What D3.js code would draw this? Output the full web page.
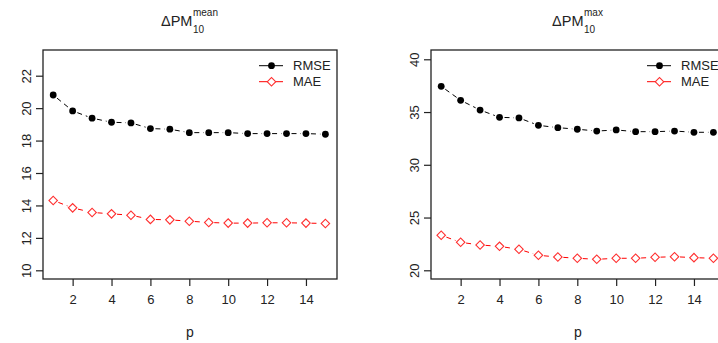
<!DOCTYPE html>
<html><head><meta charset="utf-8">
<script src="https://cdn.jsdelivr.net/npm/d3@7"></script>
<style>body{margin:0;background:#fff}svg{display:block;font-family:"Liberation Sans",Arial,sans-serif}</style>
</head><body><svg id="c" width="718" height="343"></svg>
<script>
const p = [1,2,3,4,5,6,7,8,9,10,11,12,13,14,15];
const rmseMean = [20.81,19.83,19.38,19.13,19.09,18.74,18.70,18.49,18.49,18.49,18.43,18.43,18.43,18.43,18.39];
const maeMean  = [14.31,13.85,13.57,13.48,13.40,13.14,13.11,13.03,12.95,12.91,12.91,12.93,12.93,12.91,12.89];
const rmseMax  = [37.44,36.11,35.19,34.50,34.44,33.74,33.52,33.37,33.20,33.30,33.14,33.14,33.20,33.08,33.08];
const maeMax   = [23.32,22.65,22.40,22.27,21.99,21.42,21.26,21.14,21.04,21.14,21.14,21.23,21.29,21.20,21.14];
const xTicks = [2,4,6,8,10,12,14];
const yTicksMean = [10,12,14,16,18,20,22];
const yTicksMax = [20,25,30,35,40];
const seriesNames = ["RMSE","MAE"];

const svg = d3.select("#c");
const ink = "#222";

function panel(ox, sup, rmse, mae, yDomain, yTicks) {
  const g = svg.append("g").attr("transform", `translate(${ox},0)`);
  const left = 43, right = 337, top = 50, bottom = 279;
  const x = d3.scaleLinear().domain([1,15]).range([53.2,325.4]);
  const y = d3.scaleLinear().domain(yDomain).range([bottom, top]);

  g.append("rect").attr("x",left).attr("y",top).attr("width",right-left).attr("height",bottom-top)
    .attr("fill","none").attr("stroke",ink).attr("stroke-width",1.3);

  const xa = d3.axisBottom(x).tickValues(xTicks).tickSize(7).tickPadding(9).tickSizeOuter(0);
  const gx = g.append("g").attr("transform",`translate(0,${bottom})`).call(xa);
  gx.select(".domain").remove();
  gx.selectAll("line").attr("stroke",ink).attr("stroke-width",1.2);
  gx.selectAll("text").attr("font-size",13).attr("fill",ink).attr("font-family","Liberation Sans, Arial, sans-serif");

  const ya = d3.axisLeft(y).tickValues(yTicks).tickSize(7).tickPadding(0).tickSizeOuter(0);
  const gy = g.append("g").attr("transform",`translate(${left},0)`).call(ya);
  gy.select(".domain").remove();
  gy.selectAll("line").attr("stroke",ink).attr("stroke-width",1.2);
  gy.selectAll("text").attr("font-size",13).attr("fill",ink).attr("font-family","Liberation Sans, Arial, sans-serif")
    .attr("text-anchor","middle").attr("x",0).attr("dy",0)
    .attr("transform","translate(-17,0) rotate(-90)").attr("dominant-baseline","central");

  g.append("text").attr("x",190).attr("y",337).attr("text-anchor","middle")
    .attr("font-size",14).attr("fill",ink).text("p");

  // title: ΔPM with superscript / subscript, centred over the panel
  const t = g.append("text").attr("y",26).attr("fill",ink).attr("font-size",14.5).text("ΔPM");
  const tw = t.node().getComputedTextLength();
  const s1 = g.append("text").attr("y",16).attr("font-size",10).attr("fill",ink).text(sup);
  const s2 = g.append("text").attr("y",33).attr("font-size",10).attr("fill",ink).text("10");
  const sw = Math.max(s1.node().getComputedTextLength(), s2.node().getComputedTextLength());
  const tx = 189.5 - (tw + 0.5 + sw) / 2;
  t.attr("x", tx);
  s1.attr("x", tx + tw + 0.5);
  s2.attr("x", tx + tw + 0.5);

  function drawSeries(vals, color, gap) {
    const pts = p.map((d,i)=>[x(d), y(vals[i])]);
    for (let i=0;i<pts.length-1;i++){
      const [x0,y0]=pts[i],[x1,y1]=pts[i+1];
      const dx=x1-x0, dy=y1-y0, L=Math.hypot(dx,dy);
      if (L<=2*gap) continue;
      const ux=dx/L, uy=dy/L;
      g.append("line").attr("x1",x0+ux*gap).attr("y1",y0+uy*gap)
        .attr("x2",x1-ux*gap).attr("y2",y1-uy*gap)
        .attr("stroke",color).attr("stroke-width",1).attr("stroke-dasharray","5,4");
    }
    return pts;
  }
  const pr = drawSeries(rmse, "#000", 5);
  g.selectAll(".rp").data(pr).enter().append("circle")
    .attr("cx",d=>d[0]).attr("cy",d=>d[1]).attr("r",3.4).attr("fill","#000");
  const pm = drawSeries(mae, "#ff0000", 5.5);
  const dia = d3.symbol().type(d3.symbolSquare).size(36);
  g.selectAll(".mp").data(pm).enter().append("path")
    .attr("d",dia).attr("transform",d=>`translate(${d[0]},${d[1]}) rotate(45)`)
    .attr("fill","none").attr("stroke","#ff3030").attr("stroke-width",1.1);

  const lg = g.append("g");
  const ly = [65.7, 81.7];
  lg.append("line").attr("x1",259).attr("x2",283).attr("y1",ly[0]).attr("y2",ly[0]).attr("stroke","#000");
  lg.append("circle").attr("cx",271.5).attr("cy",ly[0]).attr("r",3.4).attr("fill","#000");
  lg.append("line").attr("x1",259).attr("x2",283).attr("y1",ly[1]).attr("y2",ly[1]).attr("stroke","#ff0000");
  lg.append("path").attr("d",dia).attr("transform",`translate(271.5,${ly[1]}) rotate(45)`)
    .attr("fill","#fff").attr("stroke","#ff3030").attr("stroke-width",1.1);
  seriesNames.forEach((s,i)=>{
    lg.append("text").attr("x",293).attr("y",ly[i]).attr("dominant-baseline","central")
      .attr("font-size",13).attr("fill",ink).text(s);
  });
}

panel(0, "mean", rmseMean, maeMean, [9.464, 23.585], yTicksMean);
panel(388, "max", rmseMax, maeMax, [19.175, 40.88], yTicksMax);
</script></body></html>
